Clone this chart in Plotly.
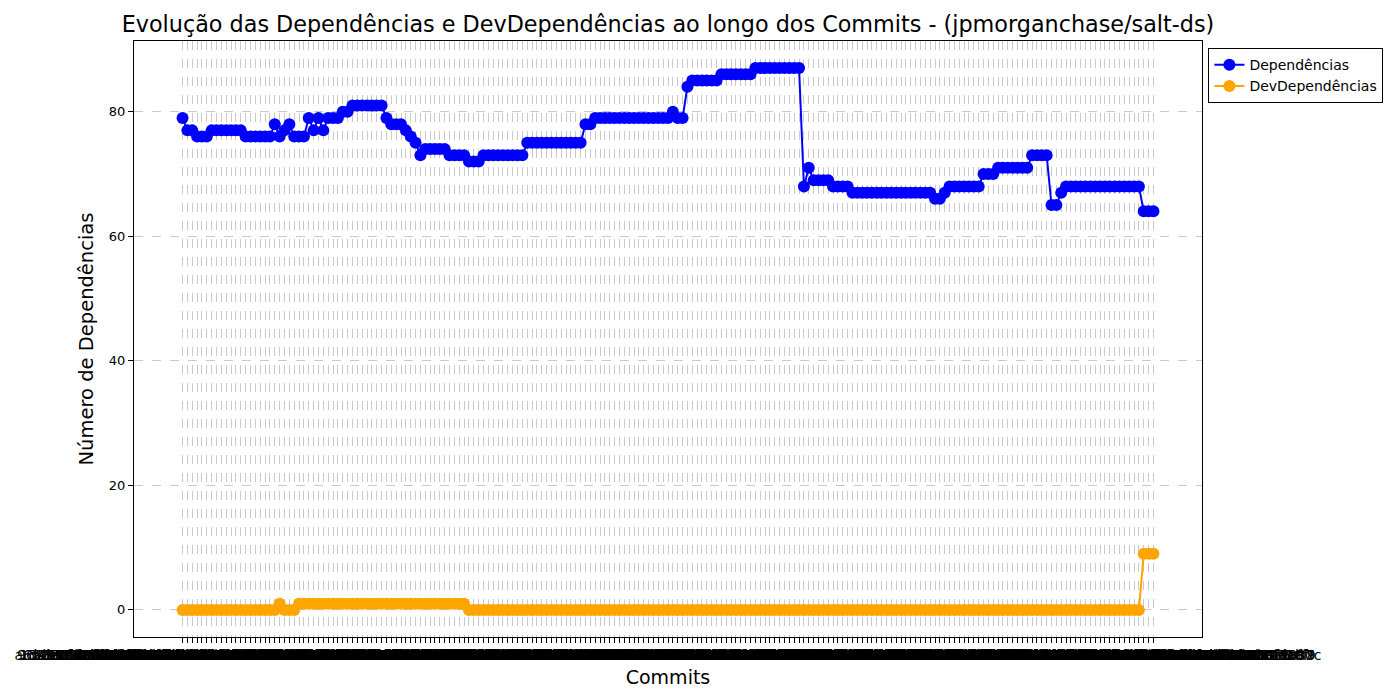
import hashlib
import plotly.graph_objects as go

# ---------------------------
# Data
# ---------------------------
# commit ids are unreadable in the original (overlapping labels), placeholder hashes
commits = [hashlib.sha1(f"salt-ds-commit-{i}".encode()).hexdigest() for i in range(201)]

dependencias = [
    79, 77, 77, 76, 76, 76, 77, 77, 77, 77, 77, 77, 77, 76, 76, 76, 76, 76, 76, 78,
    76, 77, 78, 76, 76, 76, 79, 77, 79, 77, 79, 79, 79, 80, 80, 81, 81, 81, 81, 81,
    81, 81, 79, 78, 78, 78, 77, 76, 75, 73, 74, 74, 74, 74, 74, 73, 73, 73, 73, 72,
    72, 72, 73, 73, 73, 73, 73, 73, 73, 73, 73, 75, 75, 75, 75, 75, 75, 75, 75, 75,
    75, 75, 75, 78, 78, 79, 79, 79, 79, 79, 79, 79, 79, 79, 79, 79, 79, 79, 79, 79,
    79, 80, 79, 79, 84, 85, 85, 85, 85, 85, 85, 86, 86, 86, 86, 86, 86, 86, 87, 87,
    87, 87, 87, 87, 87, 87, 87, 87, 68, 71, 69, 69, 69, 69, 68, 68, 68, 68, 67, 67,
    67, 67, 67, 67, 67, 67, 67, 67, 67, 67, 67, 67, 67, 67, 67, 66, 66, 67, 68, 68,
    68, 68, 68, 68, 68, 70, 70, 70, 71, 71, 71, 71, 71, 71, 71, 73, 73, 73, 73, 65,
    65, 67, 68, 68, 68, 68, 68, 68, 68, 68, 68, 68, 68, 68, 68, 68, 68, 68, 64, 64,
    64,
]

dev_dependencias = [
    0, 0, 0, 0, 0, 0, 0, 0, 0, 0, 0, 0, 0, 0, 0, 0, 0, 0, 0, 0,
    1, 0, 0, 0, 1, 1, 1, 1, 1, 1, 1, 1, 1, 1, 1, 1, 1, 1, 1, 1,
    1, 1, 1, 1, 1, 1, 1, 1, 1, 1, 1, 1, 1, 1, 1, 1, 1, 1, 1, 0,
    0, 0, 0, 0, 0, 0, 0, 0, 0, 0, 0, 0, 0, 0, 0, 0, 0, 0, 0, 0,
    0, 0, 0, 0, 0, 0, 0, 0, 0, 0, 0, 0, 0, 0, 0, 0, 0, 0, 0, 0,
    0, 0, 0, 0, 0, 0, 0, 0, 0, 0, 0, 0, 0, 0, 0, 0, 0, 0, 0, 0,
    0, 0, 0, 0, 0, 0, 0, 0, 0, 0, 0, 0, 0, 0, 0, 0, 0, 0, 0, 0,
    0, 0, 0, 0, 0, 0, 0, 0, 0, 0, 0, 0, 0, 0, 0, 0, 0, 0, 0, 0,
    0, 0, 0, 0, 0, 0, 0, 0, 0, 0, 0, 0, 0, 0, 0, 0, 0, 0, 0, 0,
    0, 0, 0, 0, 0, 0, 0, 0, 0, 0, 0, 0, 0, 0, 0, 0, 0, 0, 9, 9,
    9,
]

y_ticks = [0, 20, 40, 60, 80]

FONT = "DejaVu Sans"

fig = go.Figure()

fig.add_trace(go.Scatter(
    x=commits, y=dependencias,
    mode="lines+markers",
    name="Dependências",
    line=dict(color="blue", width=2),
    marker=dict(color="blue", size=12),
))
fig.add_trace(go.Scatter(
    x=commits, y=dev_dependencias,
    mode="lines+markers",
    name="DevDependências",
    line=dict(color="orange", width=2),
    marker=dict(color="orange", size=12),
))

# ---------------------------
# Layout styling
# ---------------------------
grid = dict(showgrid=True, gridcolor="rgba(178,178,178,0.7)", griddash="dash", gridwidth=1)

fig.update_layout(
    width=1400, height=700,
    font=dict(family=FONT, color="black"),
    paper_bgcolor="white",
    plot_bgcolor="white",
    margin=dict(l=134, r=198, t=41, b=63),
    title=dict(
        text="Evolução das Dependências e DevDependências ao longo dos Commits - (jpmorganchase/salt-ds)",
        x=0.5, xref="paper", xanchor="center",
        y=1 - 24 / 700, yanchor="middle",
        font=dict(size=22.3, family=FONT),
    ),
    xaxis=dict(
        type="category",
        range=[-10, 210],
        tickmode="array",
        tickvals=commits,
        ticktext=commits,
        tickangle=0,
        tickfont=dict(size=14, color="black"),
        ticks="outside", ticklen=5, tickcolor="black",
        showline=True, mirror=True, linecolor="black", linewidth=1,
        title=dict(text="Commits", font=dict(size=19), standoff=8),
        zeroline=False,
        **grid,
    ),
    yaxis=dict(
        range=[-4.35, 91.35],
        tickmode="array",
        tickvals=y_ticks,
        tickfont=dict(size=13),
        ticks="outside", ticklen=5, tickcolor="black",
        showline=True, mirror=True, linecolor="black", linewidth=1,
        title=dict(text="Número de Dependências", font=dict(size=19.5), standoff=10),
        zeroline=False,
        **grid,
    ),
    legend=dict(
        x=1.006, y=0.988, xanchor="left", yanchor="top",
        bordercolor="black", borderwidth=1,
        bgcolor="white",
        font=dict(size=14),
    ),
)

# page body margin would shift the figure, drop it
fig.write_html(
    "out.html",
    config={"displayModeBar": False},
    post_script="document.body.style.margin='0';",
)
